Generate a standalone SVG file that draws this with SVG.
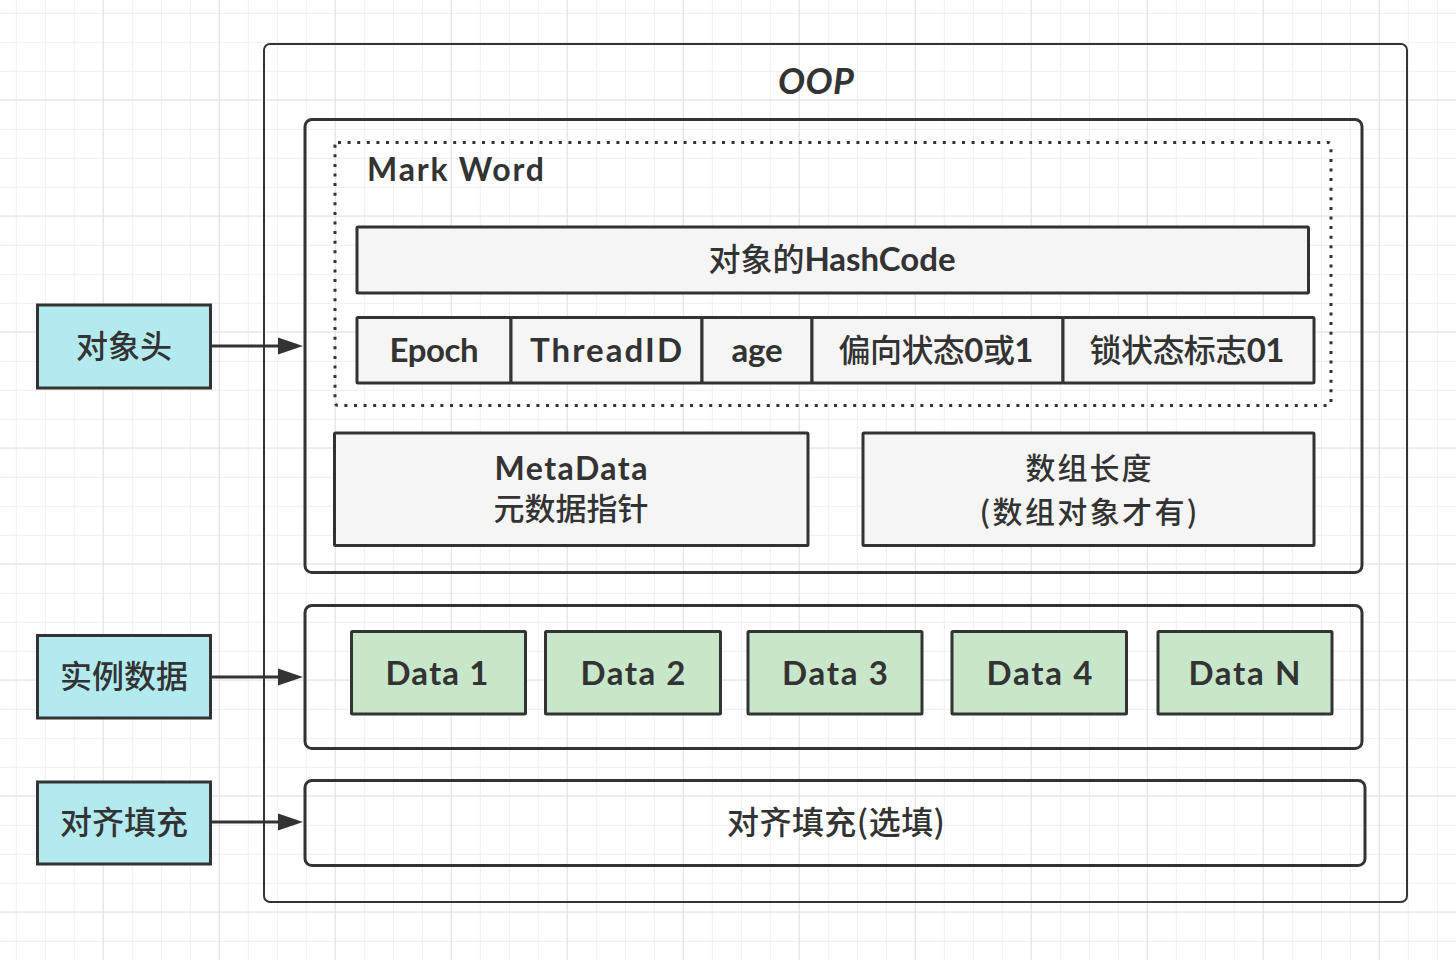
<svg xmlns="http://www.w3.org/2000/svg" width="1456" height="960" viewBox="0 0 1456 960">
<defs>
<style>
.lat{font-family:'Lato','Noto Sans CJK SC',sans-serif;font-weight:700;fill:#333;}
.cjk{font-family:'Noto Sans CJK SC','Lato',sans-serif;font-weight:500;fill:#333;}
.gbox{fill:#f5f5f5;stroke:#333;stroke-width:3;}
.lbl{fill:#b3eaf0;stroke:#333;stroke-width:3;}
.dat{fill:#c8e6c9;stroke:#333;stroke-width:3;}
.cont{fill:#fff;fill-opacity:0;stroke:#333;stroke-width:3;}
.conn{stroke:#333;stroke-width:3;fill:none;}
</style>
<pattern id="gmin" x="15.8" y="12.8" width="29" height="29" patternUnits="userSpaceOnUse">
<path d="M0.5 0V29M0 0.5H29" stroke="#efefef" stroke-width="1" fill="none"/>
</pattern>
<pattern id="gmaj" x="102.8" y="99.5" width="116" height="116" patternUnits="userSpaceOnUse">
<path d="M0.5 0V116M0 0.5H116" stroke="#e3e3e3" stroke-width="1" fill="none"/>
</pattern>
<marker id="arr" markerUnits="userSpaceOnUse" markerWidth="26" markerHeight="18" viewBox="0 0 26 18" refX="18" refY="9" orient="auto">
<path d="M0 0.5L25 9L0 17.5z" fill="#333"/>
</marker>
</defs>
<rect width="1456" height="960" fill="#fff"/>
<rect width="1456" height="960" fill="url(#gmin)"/>
<rect width="1456" height="960" fill="url(#gmaj)"/>

<g id="oop">
<rect x="264" y="44" width="1143" height="858" rx="6" fill="none" stroke="#333" stroke-width="2"/>
<text class="lat" x="816" y="94" text-anchor="middle" font-size="36" font-style="italic" textLength="76">OOP</text>
</g>

<g id="header">
<rect class="cont" x="305" y="119.5" width="1057" height="453" rx="7"/>
</g>

<g id="markword">
<rect x="335" y="142.5" width="996" height="263" rx="3" fill="none" stroke="#333" stroke-width="3" stroke-dasharray="3 6.6"/>
<text class="lat" x="367" y="181" font-size="32" textLength="177">Mark Word</text>
</g>

<g id="hashcode">
<rect class="gbox" x="357" y="227" width="951.5" height="66" rx="1"/>
<text x="832" y="271" text-anchor="middle" textLength="247"><tspan class="cjk" font-size="32">对象的</tspan><tspan class="lat" font-size="33">HashCode</tspan></text>
</g>

<g id="epoch">
<rect class="gbox" x="357" y="317.5" width="154" height="65.5" rx="1"/>
<text class="lat" x="434" y="362" text-anchor="middle" font-size="33" textLength="89">Epoch</text>
</g>
<g id="threadid">
<rect class="gbox" x="511" y="317.5" width="191" height="65.5" rx="1"/>
<text class="lat" x="606" y="362" text-anchor="middle" font-size="33" textLength="152">ThreadID</text>
</g>
<g id="age">
<rect class="gbox" x="702" y="317.5" width="110" height="65.5" rx="1"/>
<text class="lat" x="757" y="362" text-anchor="middle" font-size="33" textLength="51">age</text>
</g>
<g id="biased">
<rect class="gbox" x="812" y="317.5" width="251" height="65.5" rx="1"/>
<text x="936" y="362" text-anchor="middle" textLength="195"><tspan class="cjk" font-size="32">偏向状态</tspan><tspan class="lat" font-size="33">0</tspan><tspan class="cjk" font-size="32">或</tspan><tspan class="lat" font-size="33">1</tspan></text>
</g>
<g id="lockflag">
<rect class="gbox" x="1063" y="317.5" width="251" height="65.5" rx="1"/>
<text x="1187" y="362" text-anchor="middle" textLength="195"><tspan class="cjk" font-size="32">锁状态标志</tspan><tspan class="lat" font-size="33">01</tspan></text>
</g>

<g id="metadata">
<rect class="gbox" x="334.5" y="433" width="473.5" height="112.5" rx="1"/>
<text class="lat" x="571" y="480" text-anchor="middle" font-size="32" textLength="153">MetaData</text>
<text class="cjk" x="571" y="520" text-anchor="middle" font-size="31">元数据指针</text>
</g>

<g id="arraylen">
<rect class="gbox" x="863" y="433" width="451" height="112.5" rx="1"/>
<text class="cjk" x="1088.5" y="479" text-anchor="middle" font-size="30" textLength="126">数组长度</text>
<text class="cjk" x="1088.5" y="523" text-anchor="middle" font-size="30" textLength="218">(数组对象才有)</text>
</g>

<g id="instance">
<rect class="cont" x="305" y="605.5" width="1057" height="143" rx="7"/>
</g>
<g id="data1">
<rect class="dat" x="351.5" y="631.5" width="174" height="82.5" rx="1"/>
<text class="lat" x="437" y="685" text-anchor="middle" font-size="33" textLength="103">Data 1</text>
</g>
<g id="data2">
<rect class="dat" x="545.5" y="631.5" width="175" height="82.5" rx="1"/>
<text class="lat" x="633" y="685" text-anchor="middle" font-size="33" textLength="105">Data 2</text>
</g>
<g id="data3">
<rect class="dat" x="748" y="631.5" width="174" height="82.5" rx="1"/>
<text class="lat" x="835" y="685" text-anchor="middle" font-size="33" textLength="106">Data 3</text>
</g>
<g id="data4">
<rect class="dat" x="952" y="631.5" width="174.5" height="82.5" rx="1"/>
<text class="lat" x="1039.5" y="685" text-anchor="middle" font-size="33" textLength="106">Data 4</text>
</g>
<g id="dataN">
<rect class="dat" x="1158" y="631.5" width="174" height="82.5" rx="1"/>
<text class="lat" x="1244.5" y="685" text-anchor="middle" font-size="33" textLength="112">Data N</text>
</g>

<g id="padding">
<rect class="cont" x="305" y="780.5" width="1060" height="85" rx="7"/>
<text class="cjk" x="836" y="834" text-anchor="middle" font-size="32" textLength="218">对齐填充(选填)</text>
</g>

<g id="lbl-header">
<rect class="lbl" x="37.5" y="305" width="173" height="83"/>
<text class="cjk" x="124" y="358" text-anchor="middle" font-size="32">对象头</text>
</g>
<g id="lbl-instance">
<rect class="lbl" x="37.5" y="635.5" width="173" height="82.5"/>
<text class="cjk" x="124" y="688" text-anchor="middle" font-size="32">实例数据</text>
</g>
<g id="lbl-padding">
<rect class="lbl" x="37.5" y="782" width="173" height="82"/>
<text class="cjk" x="124" y="834" text-anchor="middle" font-size="32">对齐填充</text>
</g>

<g id="connectors">
<line class="conn" x1="211" y1="346" x2="296" y2="346" marker-end="url(#arr)"/>
<line class="conn" x1="211" y1="677" x2="296" y2="677" marker-end="url(#arr)"/>
<line class="conn" x1="211" y1="822" x2="296" y2="822" marker-end="url(#arr)"/>
</g>
</svg>
